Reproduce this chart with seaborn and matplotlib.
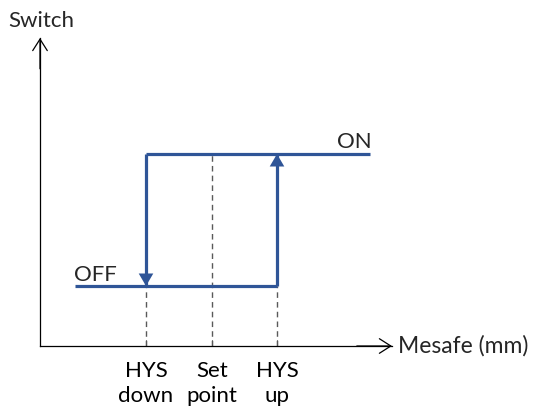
"""Histerezis diyagrami: mesafe sensoru anahtarlama."""

import matplotlib.pyplot as plt
import seaborn as sns

# esik noktalari (x, piksele yakin birim) ve anahtar seviyeleri
tick_positions = [106, 172, 237]
tick_labels = ["HYS\ndown", "Set\npoint", "HYS\nup"]
hys_down, set_point, hys_up = tick_positions
off_level = 60
on_level = 192
off_start = 35
on_end = 330
x_max = 352
y_max = 308

BLUE = "#2F5597"
GREY = "#595959"
FS = 16

sns.set_style("white")
plt.rcParams["font.family"] = ["Lato", "DejaVu Sans"]

fig = plt.figure(figsize=(5.35, 4.14), dpi=100)
ax = fig.add_axes([40 / 535, 67 / 414, 352 / 535, 308 / 414])
ax.set_xlim(0, x_max)
ax.set_ylim(0, y_max)

for side in ("top", "right"):
    ax.spines[side].set_visible(False)
for side in ("left", "bottom"):
    ax.spines[side].set_color("black")
    ax.spines[side].set_linewidth(0.9)

# eksen oklari
head = dict(arrowstyle="->,head_length=0.55,head_width=0.35", lw=0.9,
            color="black", mutation_scale=15, shrinkA=0, shrinkB=0)
ax.annotate("", xy=(1, 0), xytext=(0.9, 0), xycoords="axes fraction",
            arrowprops=head, annotation_clip=False)
ax.annotate("", xy=(0, 1), xytext=(0, 0.9), xycoords="axes fraction",
            arrowprops=head, annotation_clip=False)

# kesikli referans cizgileri
dash = dict(color=GREY, lw=1, dashes=(4, 3))
ax.plot([hys_down, hys_down], [0, off_level], **dash)
ax.plot([set_point, set_point], [0, on_level], **dash)
ax.plot([hys_up, hys_up], [0, off_level], **dash)

# histerezis dongusu
line = dict(color=BLUE, lw=2.3, solid_capstyle="butt")
ax.plot([off_start, hys_up], [off_level, off_level], **line)
ax.plot([hys_up, hys_up], [off_level, on_level], **line)
ax.plot([hys_down, on_end], [on_level, on_level], **line)
ax.plot([hys_down, hys_down], [on_level, off_level], **line)

tri = dict(arrowstyle="-|>,head_length=0.6,head_width=0.35", lw=0,
           color=BLUE, mutation_scale=15, shrinkA=0, shrinkB=0)
ax.annotate("", xy=(hys_down, off_level), xytext=(hys_down, off_level + 20),
            arrowprops=tri)
ax.annotate("", xy=(hys_up, on_level), xytext=(hys_up, on_level - 20),
            arrowprops=tri)

ax.text(off_start - 1, off_level + 6, "OFF", fontsize=FS, ha="left", va="baseline")
ax.text(on_end - 33, on_level + 7, "ON", fontsize=FS, ha="left", va="baseline")
ax.text(-32, y_max + 12, "Switch", fontsize=FS, ha="left", va="baseline",
        clip_on=False)
ax.text(x_max + 6, -6, "Mesafe (mm)", fontsize=16.5, ha="left", va="baseline",
        clip_on=False)

ax.set_xticks(tick_positions)
ax.set_xticklabels(tick_labels, fontsize=FS, linespacing=1.35)
ax.set_yticks([])
ax.tick_params(axis="x", direction="in", length=4, width=0.8, pad=10,
               colors="black", bottom=True)

fig.savefig("out.png", dpi=100)
